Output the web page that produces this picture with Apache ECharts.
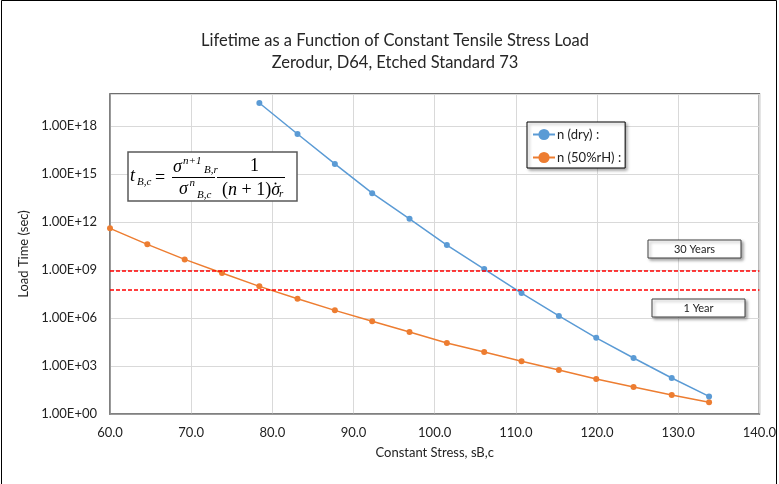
<!DOCTYPE html>
<html>
<head>
<meta charset="utf-8">
<script src="https://cdn.jsdelivr.net/npm/echarts@6/dist/echarts.min.js"></script>
<style>
html,body{margin:0;padding:0;background:#fff;}
#chart{width:779px;height:484px;}
</style>
</head>
<body>
<div id="chart"></div>
<script>
// ---- data ----
const stress = [60, 64.6, 69.2, 73.8, 78.4, 83.1, 87.7, 92.3, 96.9, 101.5, 106.1, 110.7, 115.3, 119.9, 124.5, 129.2, 133.8];
const dryTime = [null, null, null, null, 2.75e19, 3.16e17, 4.27e15, 6.3e13, 1.58e12, 3.6e10, 1.15e9, 3.6e7, 1.35e6, 5.75e4, 3.16e3, 178, 12.6];
const humidTime = [4.0e11, 4.0e10, 4.6e9, 6.5e8, 9.5e7, 1.6e7, 3.0e6, 6.2e5, 1.32e5, 2.75e4, 7.6e3, 2.0e3, 560, 155, 49, 15.5, 5.4];
const seriesNames = ['n (dry) :', 'n (50%rH) :'];
const refLineValues = [9.5e8, 5.9e7];
const refLineLabels = ['30 Years', '1 Year'];
const xTickLabels = ['60.0','70.0','80.0','90.0','100.0','110.0','120.0','130.0','140.0'];
const yTickExponents = [0, 3, 6, 9, 12, 15, 18];

const pairs = (xs, ys) => xs.map((x, i) => [x, ys[i]]).filter(p => p[1] != null);

const chart = echarts.init(document.getElementById('chart'), null, {renderer: 'canvas'});

const FONT = 'Lato';
const SERIF = '"Liberation Serif"';
function t(x, y, s, size, italic, align) {
  return {type: 'text', x: x, y: y, z: 101, silent: true,
    style: {text: s, fontSize: size, fontFamily: SERIF, fontStyle: italic ? 'italic' : 'normal',
      fill: '#000', align: align || 'left', verticalAlign: 'middle'}};
}
function box(x, y, w, h) {
  return {type: 'rect', z: 100, silent: true, shape: {x: x, y: y, width: w, height: h},
    style: {fill: '#fff', stroke: '#404040', lineWidth: 1,
      shadowBlur: 3, shadowOffsetX: 2, shadowOffsetY: 2, shadowColor: 'rgba(0,0,0,0.35)'}};
}
function boxText(cx, cy, s) {
  return {type: 'text', x: cx, y: cy, z: 102, silent: true,
    style: {text: s, fontSize: 11, fontFamily: FONT, fill: '#222', align: 'center', verticalAlign: 'middle'}};
}

const option = {
  animation: false,
  backgroundColor: '#fff',
  title: {
    text: 'Lifetime as a Function of Constant Tensile Stress Load\nZerodur, D64, Etched Standard 73',
    left: 390, top: 25, textAlign: 'center',
    textStyle: {fontFamily: FONT, fontSize: 16.5, fontWeight: 'normal', color: '#262626', lineHeight: 22}
  },
  legend: {
    orient: 'vertical', left: 527, top: 122,
    padding: [6, 4, 4, 5], itemGap: 10, itemWidth: 22, itemHeight: 14,
    backgroundColor: '#fff', borderColor: '#000', borderWidth: 1,
    shadowBlur: 3, shadowOffsetX: 2, shadowOffsetY: 2, shadowColor: 'rgba(0,0,0,0.35)',
    textStyle: {fontFamily: FONT, fontSize: 13, color: '#222', padding: [0, 0, 0, -3]},
    data: seriesNames
  },
  grid: {left: 110, right: 18, top: 94, bottom: 70, show: true, borderColor: '#404040', borderWidth: 1.5},
  xAxis: {
    type: 'value', min: 60, max: 140, interval: 10,
    name: 'Constant Stress, sB,c', nameLocation: 'middle', nameGap: 32,
    nameTextStyle: {fontFamily: FONT, fontSize: 13, color: '#222'},
    axisLine: {show: true, lineStyle: {color: '#868686', width: 1.5}},
    axisTick: {show: false},
    axisLabel: {margin: 12, fontFamily: FONT, fontSize: 13, color: '#222',
      formatter: v => xTickLabels[Math.round((v - 60) / 10)] || ''},
    splitLine: {show: true, lineStyle: {color: '#d9d9d9', width: 1}}
  },
  yAxis: {
    type: 'log', logBase: 10, min: 1, max: 1e20, interval: 3,
    name: 'Load Time (sec)', nameLocation: 'middle', nameGap: 73, nameRotate: 90,
    nameTextStyle: {fontFamily: FONT, fontSize: 13, color: '#222'},
    axisLine: {show: true, lineStyle: {color: '#868686', width: 1.5}},
    axisTick: {show: false},
    axisLabel: {margin: 13, fontFamily: FONT, fontSize: 13, color: '#222',
      formatter: v => {
        const e = Math.round(Math.log10(v));
        if (yTickExponents.indexOf(e) < 0) return '';
        return '1.00E+' + String(e).padStart(2, '0');
      }},
    splitLine: {show: true, lineStyle: {color: '#d9d9d9', width: 1}}
  },
  series: [
    {
      name: seriesNames[0], type: 'line', data: pairs(stress, dryTime),
      symbol: 'circle', symbolSize: 6, color: '#5b9bd5',
      lineStyle: {width: 1.5, color: '#5b9bd5'}, itemStyle: {color: '#5b9bd5'}, z: 3,
      markLine: {
        silent: true, symbol: ['none', 'none'], label: {show: false},
        lineStyle: {color: '#ff0000', type: [4, 2], width: 1.5},
        data: refLineValues.map(v => ({yAxis: v}))
      }
    },
    {
      name: seriesNames[1], type: 'line', data: pairs(stress, humidTime),
      symbol: 'circle', symbolSize: 6, color: '#ed7d31',
      lineStyle: {width: 1.5, color: '#ed7d31'}, itemStyle: {color: '#ed7d31'}, z: 2
    }
  ],
  graphic: [
    // outer chart border
    {type: 'rect', z: 0, silent: true, shape: {x: 1.5, y: 0.5, width: 775, height: 600},
      style: {fill: 'none', stroke: '#000', lineWidth: 1}},
    // formula box
    {type: 'rect', z: 100, silent: true, shape: {x: 128, y: 152, width: 169, height: 49},
      style: {fill: '#fff', stroke: '#595959', lineWidth: 1.5}},
    t(130, 176, 't', 18, true),
    t(137, 182, 'B,c', 11, true),
    t(155, 178, '=', 18, false),
    t(173, 167.5, 'σ', 18, true),
    t(183, 161, 'n+1', 11, true),
    t(204, 170, 'B,r', 11, true),
    {type: 'line', z: 101, silent: true, shape: {x1: 172, y1: 177.5, x2: 215, y2: 177.5}, style: {stroke: '#000', lineWidth: 1}},
    t(179, 189, 'σ', 18, true),
    t(189.5, 183.5, 'n', 11, true),
    t(197, 195, 'B,c', 11, true),
    {type: 'line', z: 101, silent: true, shape: {x1: 217, y1: 177.5, x2: 285, y2: 177.5}, style: {stroke: '#000', lineWidth: 1}},
    t(254.5, 166.5, '1', 18, false, 'center'),
    {type: 'text', x: 222, y: 190, z: 101, silent: true,
      style: {text: '{a|(}{b|n}{a| + 1)}{b|σ}', verticalAlign: 'middle', fill: '#000',
        rich: {a: {fontSize: 18, fontFamily: SERIF, fill: '#000'},
               b: {fontSize: 18, fontFamily: SERIF, fontStyle: 'italic', fill: '#000'}}}},
    {type: 'circle', z: 101, silent: true, shape: {cx: 275.5, cy: 183.5, r: 1}, style: {fill: '#000'}},
    t(279, 194, 'r', 11, true),
    // reference labels
    box(648, 240, 93, 18), boxText(694.5, 249, refLineLabels[0]),
    box(652, 299, 93, 18), boxText(698.5, 308, refLineLabels[1])
  ]
};
chart.setOption(option);
</script>
</body>
</html>
